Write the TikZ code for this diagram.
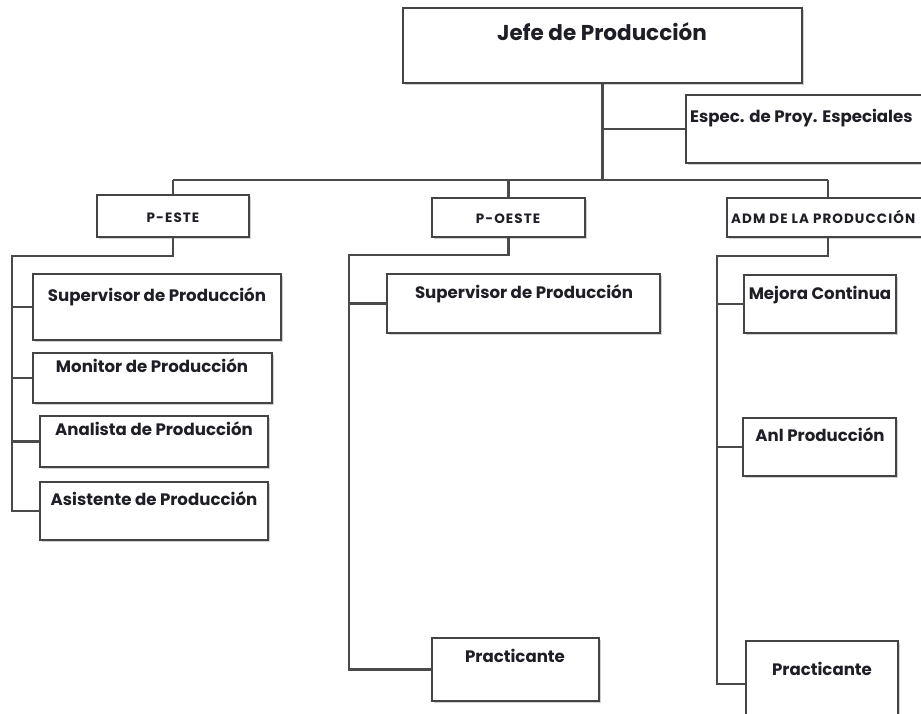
\documentclass[tikz,border=0pt]{standalone}
\usepackage{fontspec}
\setmainfont{Poppins}
\newfontfamily\spacedfont[LetterSpace=8]{Poppins}
\usetikzlibrary{calc,shadows}
\definecolor{wiregray}{HTML}{4A4A4A}
\definecolor{boxgray}{HTML}{444444}
\definecolor{inkdark}{HTML}{1E1E26}

% \orgbox{name}{left}{top}{right}{bottom}
\newcommand{\orgbox}[5]{%
  \node[unitbox, minimum width={#4-#2}, minimum height={#5-#3}]
    (#1) at ({(#2+#4)/2},{(#3+#5)/2}) {};}

\begin{document}
\begin{tikzpicture}[x=1pt,y=-1pt,
  unitbox/.style={draw=boxgray, line width=1.7pt, fill=white, inner sep=0pt,
    general shadow={shadow xshift=1.6pt, shadow yshift=-1.6pt, fill=black, opacity=0.18}},
  wire/.style={draw=wiregray, line width=2.4pt, line join=miter},
  lbl/.style={text=inkdark, font=\bfseries\fontsize{16.6}{18}\selectfont, inner sep=0pt, anchor=base},
  biglbl/.style={lbl, font=\bfseries\fontsize{21.5}{24}\selectfont},
  smalllbl/.style={lbl, font=\spacedfont\bfseries\fontsize{13.5}{15}\selectfont}]

\useasboundingbox (0,0) rectangle (921,713);
\clip (0,0) rectangle (921,713);

% top level
\orgbox{jefe}{403}{8}{802}{83}
\orgbox{espec}{686}{95}{960}{163}
\node[biglbl] (tjefe) at (602,40) {Jefe de Producción};
\node[lbl, anchor=base west] (tespec) at (690,122) {Espec. de Proy. Especiales};

% second level
\orgbox{peste}{97}{195}{249}{237}
\orgbox{poeste}{432}{198}{585}{237}
\orgbox{adm}{727}{198}{960}{237}
\node[smalllbl] (tpeste) at (173,222) {P-ESTE};
\node[smalllbl] (tpoeste) at (508,223) {P-OESTE};
\node[smalllbl, anchor=base west] (tadm) at (731,223) {ADM DE LA PRODUCCIÓN};

% P-ESTE units
\orgbox{supe}{33}{274}{281}{340}
\orgbox{moni}{33}{353}{272}{403}
\orgbox{anal}{40}{416}{268}{467}
\orgbox{asis}{40}{482}{268}{540}
\node[lbl] (tsupe) at (157,301) {Supervisor de Producción};
\node[lbl] (tmoni) at (152,372) {Monitor de Producción};
\node[lbl] (tanal) at (154,435) {Analista de Producción};
\node[lbl] (tasis) at (154,505) {Asistente de Producción};

% P-OESTE units
\orgbox{supo}{387}{274}{660}{333}
\orgbox{prao}{432}{638}{599}{701}
\node[lbl] (tsupo) at (524,298) {Supervisor de Producción};
\node[lbl] (tprao) at (515,662) {Practicante};

% ADM units
\orgbox{mejo}{744}{275}{896}{333}
\orgbox{anlp}{743}{418}{896}{476}
\orgbox{praa}{746}{641}{898}{727}
\node[lbl] (tmejo) at (820,299) {Mejora Continua};
\node[lbl] (tanlp) at (820,441) {Anl Producción};
\node[lbl] (tpraa) at (822,675) {Practicante};

% connectors
\coordinate (busL) at (173,180);
\coordinate (busR) at (828,180);
\coordinate (eturn) at (12,256);
\coordinate (oturn) at (349,255);
\coordinate (aturn) at (717,256);

\draw[wire] (jefe.south) -- (jefe.south |- busL);
\draw[wire] (jefe.south |- espec.west) -- (espec.west);
\draw[wire] (busL) -- (busR);
\draw[wire] (busL) -- (peste.north);
\draw[wire] (poeste.north |- busL) -- (poeste.north);
\draw[wire] (busR) -- (busR |- adm.north);

\draw[wire] (peste.south) -- (peste.south |- eturn) -- (eturn) -- (eturn |- asis.west) -- (asis.west);
\draw[wire] (eturn |- supe.west) -- (supe.west);
\draw[wire] (eturn |- moni.west) -- (moni.west);
\draw[wire] (eturn |- anal.west) -- (anal.west);

\draw[wire] (poeste.south) -- (poeste.south |- oturn) -- (oturn) -- (oturn |- prao.west) -- (prao.west);
\draw[wire] (oturn |- supo.west) -- (supo.west);

\draw[wire] (busR |- adm.south) -- (busR |- aturn) -- (aturn) -- (aturn |- 0,684) -- (praa.west |- 0,684);
\draw[wire] (aturn |- mejo.west) -- (mejo.west);
\draw[wire] (aturn |- anlp.west) -- (anlp.west);
\end{tikzpicture}
\end{document}
